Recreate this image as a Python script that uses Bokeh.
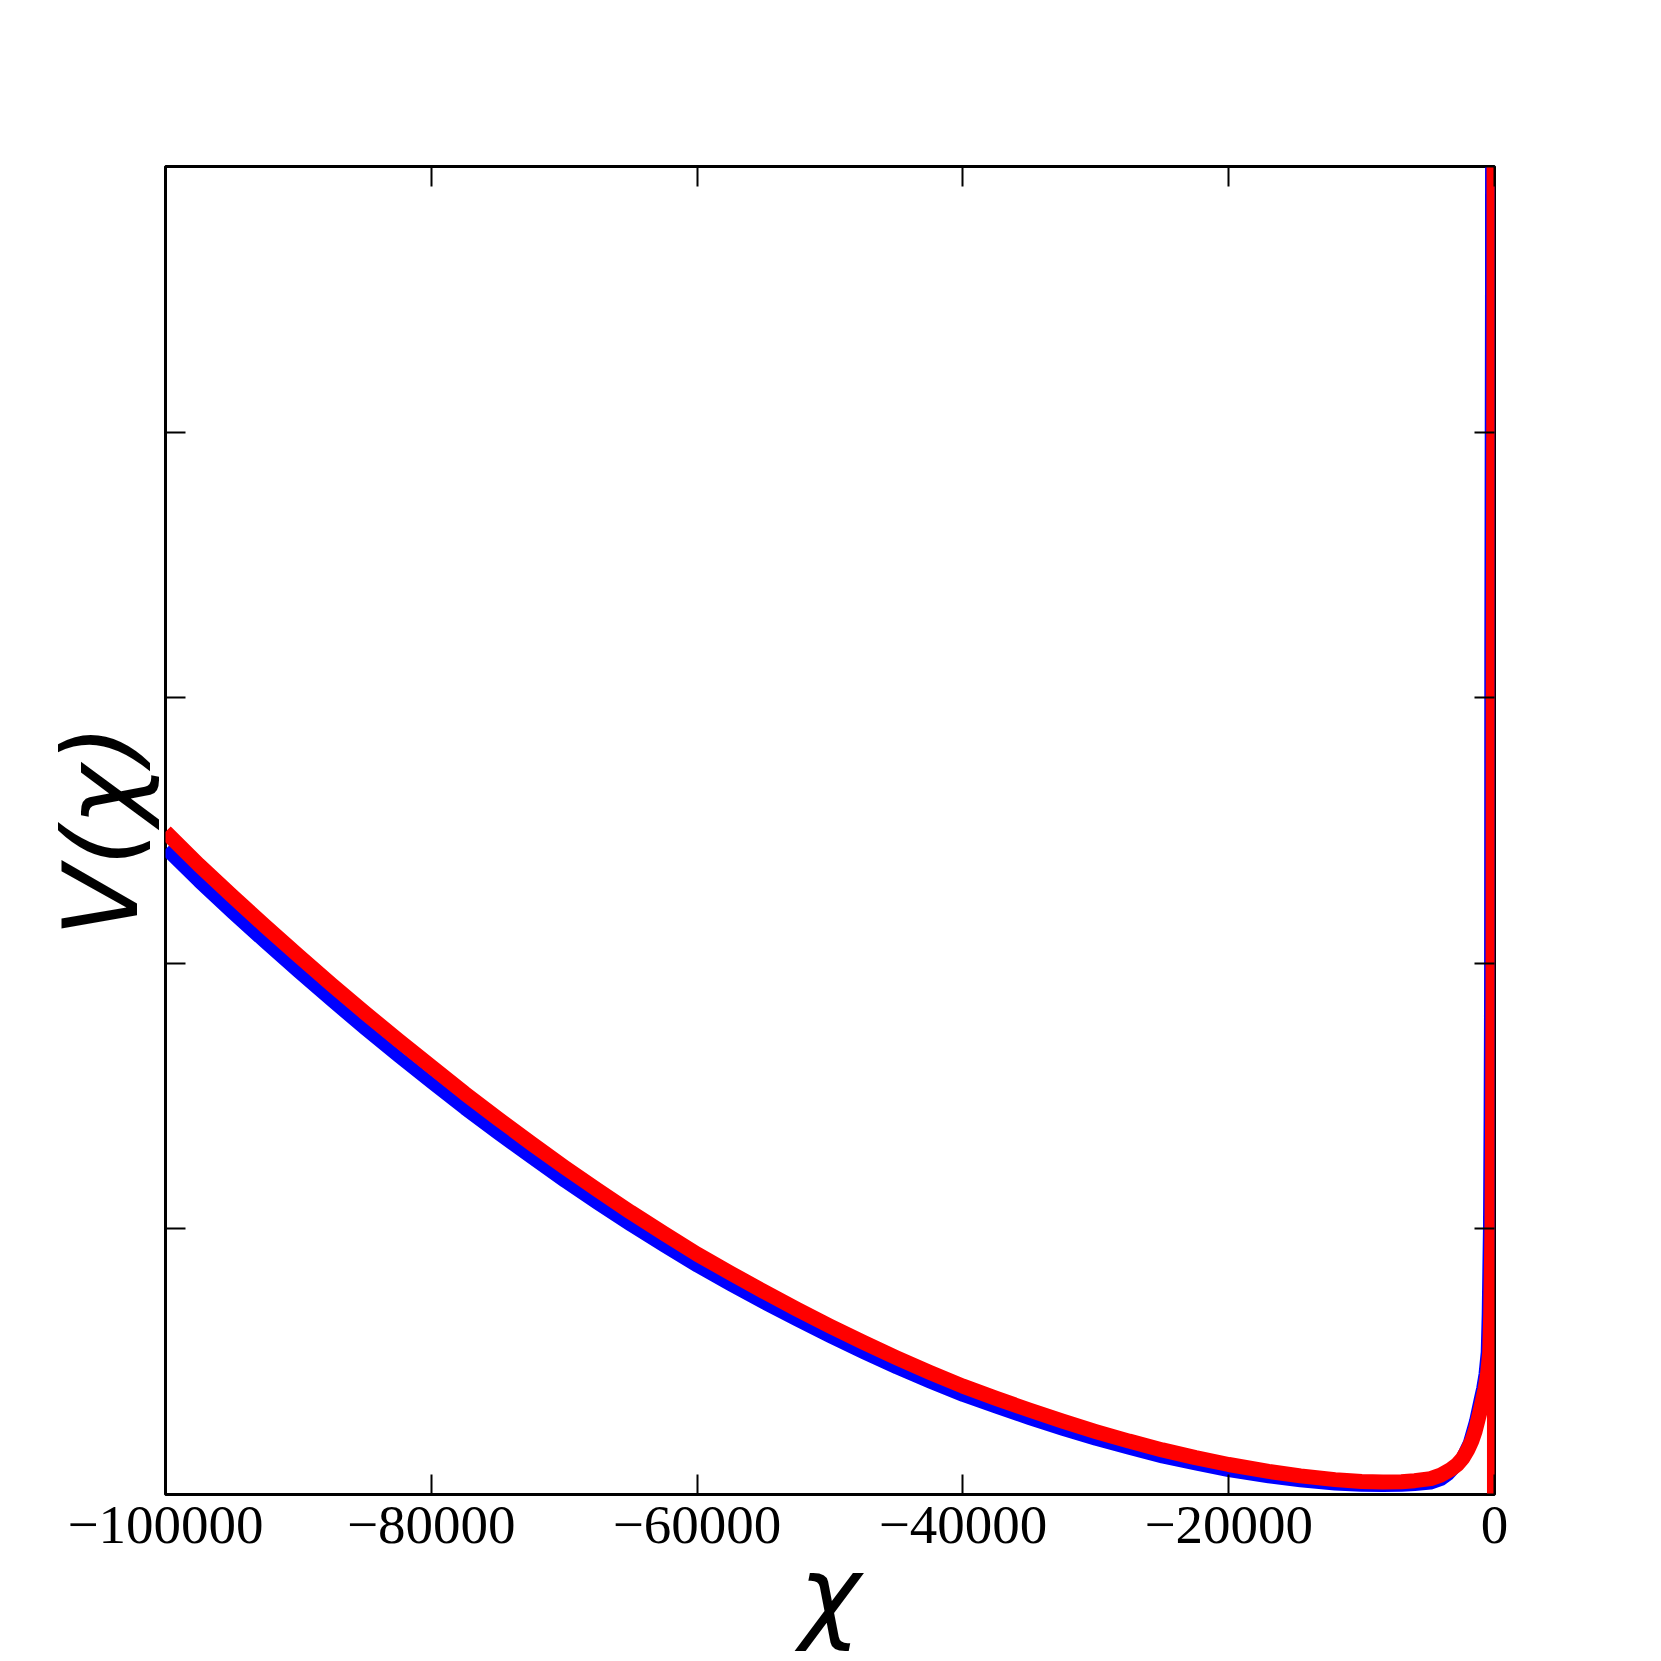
from bokeh.plotting import figure
from bokeh.models import Range1d, FixedTicker, LinearAxis
from bokeh.embed import file_html
from bokeh.resources import INLINE

# ---- data ----
x_ticks = [-100000, -80000, -60000, -40000, -20000, 0]
x_tick_labels = ["\u2212100000", "\u221280000", "\u221260000", "\u221240000", "\u221220000", "0"]
y_ticks = [0, 1, 2, 3, 4, 5]

red_x = [-100000, -97500, -95000, -92500, -90000, -87500, -85000, -82500, -80000,
         -77500, -75000, -72500, -70000, -67500, -65000, -62500, -60000,
         -57500, -55000, -52500, -50000, -47500, -45000, -42500, -40000,
         -37500, -35000, -32500, -30000, -27500, -25000, -22500, -20000, -17000,
         -14600, -12000, -10000, -8400, -7000, -6000, -4800, -4000, -3300, -2800,
         -2400, -2000, -1700, -1450, -1250, -1100, -900, -700, -527, -360, -286,
         -190, -143, -110, -90, -40, -15, 0]
red_y = [2.495, 2.371, 2.254, 2.140, 2.029, 1.920, 1.814, 1.711, 1.611,
         1.511, 1.416, 1.323, 1.233, 1.147, 1.063, 0.983, 0.905,
         0.834, 0.765, 0.698, 0.634, 0.573, 0.515, 0.460, 0.408,
         0.362, 0.318, 0.276, 0.237, 0.201, 0.168, 0.139, 0.113, 0.087,
         0.070, 0.056, 0.049, 0.047, 0.048, 0.052, 0.060, 0.074, 0.094, 0.113,
         0.136, 0.170, 0.203, 0.240, 0.279, 0.310, 0.354, 0.400, 0.452, 0.535, 0.678,
         1.009, 1.431, 1.860, 3.174, 4.495, 6.5, -1.0]

blue_x = [-100000, -97500, -95000, -92500, -90000, -87500, -85000, -82500, -80000,
          -77500, -75000, -72500, -70000, -67500, -65000, -62500, -60000,
          -57500, -55000, -52500, -50000, -47500, -45000, -42500, -40000,
          -37500, -35000, -32500, -30000, -27500, -25000, -22500, -20000, -17000,
          -14600, -12000, -10000, -8400, -7000, -6000, -4800, -4000, -3460, -2630,
          -1920, -1470, -1130, -926, -753, -586, -512, -416, -369, -336, -316,
          -266, -241]
blue_y = [2.429, 2.306, 2.189, 2.076, 1.965, 1.857, 1.751, 1.649, 1.549,
          1.451, 1.358, 1.267, 1.178, 1.094, 1.012, 0.934, 0.858,
          0.788, 0.720, 0.655, 0.592, 0.532, 0.475, 0.422, 0.371,
          0.327, 0.284, 0.244, 0.206, 0.172, 0.140, 0.113, 0.088, 0.065,
          0.050, 0.038, 0.033, 0.032, 0.033, 0.036, 0.041, 0.055, 0.075, 0.120,
          0.196, 0.275, 0.354, 0.400, 0.452, 0.535, 0.678, 1.009, 1.431, 1.860, 3.174,
          4.495, 6.5]

X0, X1 = -100000, 0
Y0, Y1 = 0, 5

p = figure(width=1661, height=1661, output_backend="svg", toolbar_location=None,
           x_range=Range1d(X0, X1), y_range=Range1d(Y0, Y1),
           min_border_left=165, min_border_right=167,
           min_border_top=166, min_border_bottom=167,
           x_axis_location=None, y_axis_location=None)
p.grid.visible = False
p.outline_line_color = "black"
p.outline_line_width = 3
p.background_fill_color = "white"
p.border_fill_color = "white"

def style_axis(ax, ticks, show_labels):
    ax.ticker = FixedTicker(ticks=ticks)
    ax.minor_tick_line_color = None
    ax.axis_line_color = None
    ax.major_tick_in = 20
    ax.major_tick_out = 0
    ax.major_tick_line_width = 2
    ax.major_tick_line_color = "black"
    if show_labels:
        ax.major_label_overrides = {t: l for t, l in zip(x_ticks, x_tick_labels)}
        ax.major_label_text_font = "Liberation Serif"
        ax.major_label_text_font_size = "55px"
        ax.major_label_text_color = "black"
        ax.major_label_standoff = 12
    else:
        ax.major_label_text_font_size = "0px"
        ax.major_label_text_color = None
        ax.major_label_standoff = 0

xb = LinearAxis(); style_axis(xb, x_ticks, True)
xb.axis_label = "\u03c7"
xb.axis_label_text_font = "DejaVu Sans"
xb.axis_label_text_font_style = "italic"
xb.axis_label_text_font_size = "104px"
xb.axis_label_text_color = "black"
xb.axis_label_standoff = -14
p.add_layout(xb, "below")

xt = LinearAxis(); style_axis(xt, x_ticks, False); p.add_layout(xt, "above")

yl = LinearAxis(); style_axis(yl, y_ticks, False)
yl.axis_label = "V(\u03c7)"
yl.axis_label_text_font = "DejaVu Sans"
yl.axis_label_text_font_style = "italic"
yl.axis_label_text_font_size = "103px"
yl.axis_label_text_color = "black"
yl.axis_label_standoff = 5
p.add_layout(yl, "left")

yr = LinearAxis(); style_axis(yr, y_ticks, False); p.add_layout(yr, "right")

p.line(blue_x, blue_y, line_color="#0000ff", line_width=12, line_join="round")
p.line(red_x, red_y, line_color="#ff0000", line_width=15, line_join="round")

open("out.html", "w").write(file_html(p, INLINE))
